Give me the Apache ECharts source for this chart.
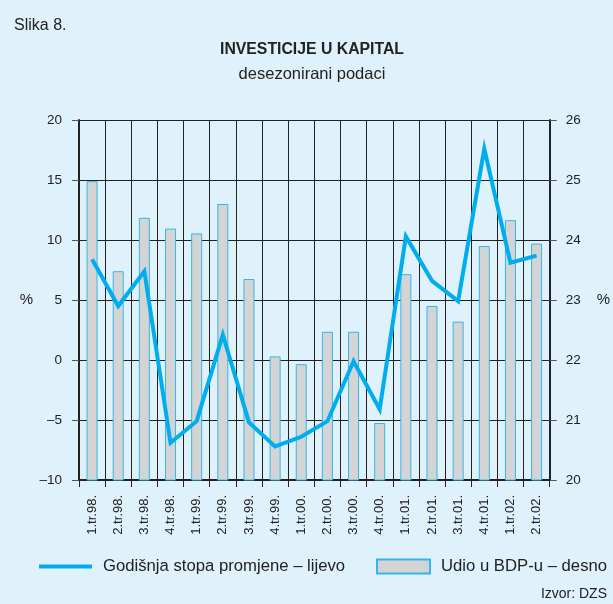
<!DOCTYPE html>
<html>
<head>
<meta charset="utf-8">
<script src="https://cdn.jsdelivr.net/npm/echarts@6/dist/echarts.min.js"></script>
<style>
    html, body { margin: 0; padding: 0; background: #dff1fb; }
    #chart { width: 613px; height: 604px; }
</style>
</head>
<body>
<div id="chart"></div>
<script>
const quarters = ['1.tr.98.', '2.tr.98.', '3.tr.98.', '4.tr.98.', '1.tr.99.', '2.tr.99.', '3.tr.99.', '4.tr.99.',
    '1.tr.00.', '2.tr.00.', '3.tr.00.', '4.tr.00.', '1.tr.01.', '2.tr.01.', '3.tr.01.', '4.tr.01.', '1.tr.02.', '2.tr.02.'];
// godisnja stopa promjene, lijeva os (%)
const growthRate = [8.4, 4.5, 7.4, -6.9, -5.1, 2.1, -5.2, -7.2, -6.4, -5.1, -0.1, -4.1, 10.3, 6.6, 4.9, 17.6, 8.1, 8.7];
// udio u BDP-u, desna os (%)
const gdpShare = [24.98, 23.48, 24.37, 24.19, 24.11, 24.6, 23.35, 22.06, 21.93, 22.47, 22.47, 20.95, 23.43, 22.9, 22.64, 23.9, 24.33, 23.94];
const leftTicks = { min: -10, max: 20, interval: 5 };
const rightTicks = { min: 20, max: 26, interval: 1 };

const FONT = 'Liberation Sans';
const TXT = '#222';
const LINE_NAME = 'Godišnja stopa promjene – lijevo';
const BAR_NAME = 'Udio u BDP-u – desno';

// en dash instead of hyphen for negative ticks
function dashMinus(v) {
    return String(v).replace('-', '–');
}

const chart = echarts.init(document.getElementById('chart'));
const option = {
    backgroundColor: '#dff1fb',
    animation: false,
    textStyle: { fontFamily: FONT, color: TXT },
    title: [
        { text: 'Slika 8.', left: 9, top: 13, textStyle: { fontSize: 16, fontWeight: 'normal', color: TXT, fontFamily: FONT } },
        {
            text: 'INVESTICIJE U KAPITAL', subtext: 'desezonirani podaci', left: 307, textAlign: 'center', top: 37, itemGap: 8,
            textStyle: { fontSize: 15.8, fontWeight: 'bold', color: TXT, fontFamily: FONT },
            subtextStyle: { fontSize: 16.5, color: TXT, fontFamily: FONT }
        }
    ],
    legend: [
        {
            data: [LINE_NAME], left: 34, top: 553, icon: 'rect', itemWidth: 53, itemHeight: 4,
            textStyle: { fontSize: 16.7, color: TXT, fontFamily: FONT, padding: [0, 0, 0, 6] }
        },
        {
            data: [BAR_NAME], left: 371, top: 553, icon: 'rect', itemWidth: 53, itemHeight: 14,
            textStyle: { fontSize: 16.7, color: TXT, fontFamily: FONT, padding: [0, 0, 0, 6] }
        }
    ],
    graphic: [
        { type: 'text', right: 6, top: 587, style: { text: 'Izvor: DZS', fontSize: 14, fill: TXT, fontFamily: FONT } }
    ],
    grid: { left: 79, right: 62, top: 120, bottom: 124 },
    xAxis: {
        type: 'category',
        data: quarters,
        boundaryGap: true,
        axisLine: { onZero: false, lineStyle: { color: '#222', width: 2 } },
        axisTick: { show: true, length: 7, lineStyle: { color: '#222' } },
        axisLabel: { rotate: 90, margin: 15, fontSize: 13, color: TXT, fontFamily: FONT, interval: 0 },
        splitLine: { show: true, lineStyle: { color: '#222', width: 1 } }
    },
    yAxis: [
        {
            type: 'value', position: 'left', min: leftTicks.min, max: leftTicks.max, interval: leftTicks.interval,
            name: '%', nameLocation: 'middle', nameRotate: 0, nameGap: 46,
            nameTextStyle: { fontSize: 15, color: TXT, fontFamily: FONT },
            axisLine: { show: true, lineStyle: { color: '#222', width: 2 } },
            axisTick: { show: true, length: 7, lineStyle: { color: '#555' } },
            axisLabel: { fontSize: 13.5, color: TXT, fontFamily: FONT, margin: 17, formatter: dashMinus },
            splitLine: { show: true, lineStyle: { color: '#222', width: 1 } }
        },
        {
            type: 'value', position: 'right', min: rightTicks.min, max: rightTicks.max, interval: rightTicks.interval,
            name: '%', nameLocation: 'middle', nameRotate: 0, nameGap: 47,
            nameTextStyle: { fontSize: 15, color: TXT, fontFamily: FONT },
            axisLine: { show: true, lineStyle: { color: '#222', width: 2 } },
            axisTick: { show: true, length: 7, lineStyle: { color: '#555' } },
            axisLabel: { fontSize: 13.5, color: TXT, fontFamily: FONT, margin: 16 },
            splitLine: { show: false }
        }
    ],
    series: [
        {
            name: BAR_NAME,
            type: 'bar',
            yAxisIndex: 1,
            data: gdpShare,
            barWidth: 11,
            itemStyle: { color: '#d4d4d4', borderColor: '#35b6ea', borderWidth: 1 },
            z: 2
        },
        {
            name: LINE_NAME,
            type: 'line',
            yAxisIndex: 0,
            data: growthRate,
            symbol: 'none',
            lineStyle: { color: '#00aeef', width: 4, join: 'miter' },
            itemStyle: { color: '#00aeef' },
            z: 3
        }
    ]
};
chart.setOption(option);
</script>
</body>
</html>
